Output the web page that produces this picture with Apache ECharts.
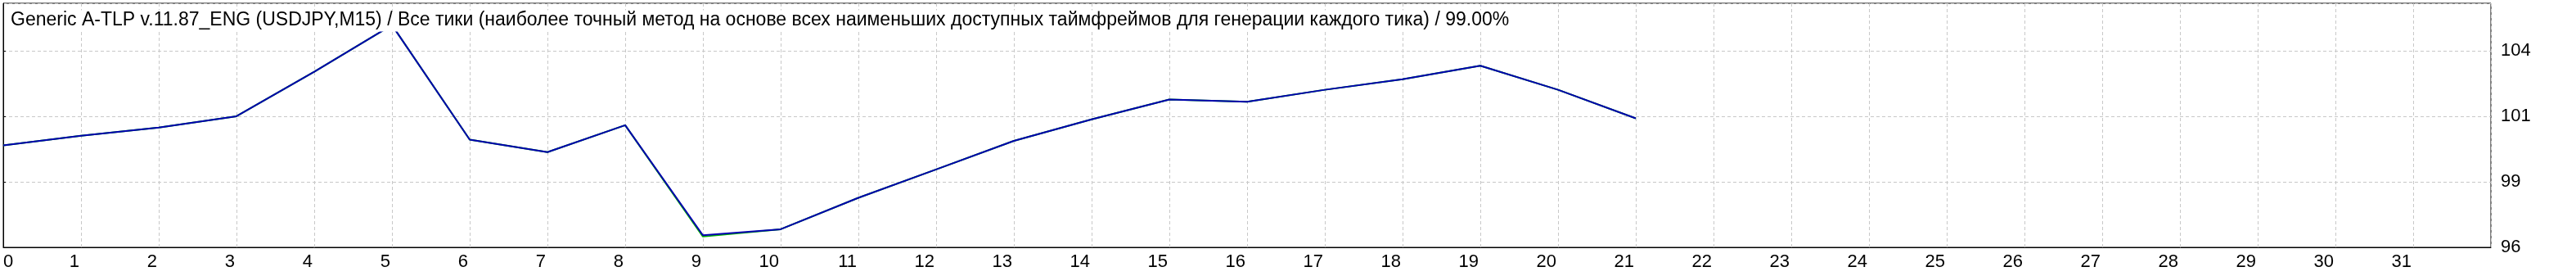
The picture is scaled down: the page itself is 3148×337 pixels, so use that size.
<!DOCTYPE html>
<html>
<head>
<meta charset="utf-8">
<script src="https://cdn.jsdelivr.net/npm/echarts@6/dist/echarts.min.js"></script>
<style>
  html, body { margin: 0; padding: 0; background: #fff; }
  #chart { width: 3148px; height: 337px; }
</style>
</head>
<body>
<div id="chart"></div>
<script>
// заголовок отчёта тестера
var titleText = "Generic A-TLP v.11.87_ENG (USDJPY,M15) / Все тики (наиболее точный метод на основе всех наименьших доступных таймфреймов для генерации каждого тика) / 99.00%";

// номер сделки и баланс после неё
var trades = [0, 1, 2, 3, 4, 5, 6, 7, 8, 9, 10, 11, 12, 13, 14, 15, 16, 17, 18, 19, 20, 21];
var balance = [99.89, 100.26, 100.57, 101.0, 102.7, 104.48, 100.11, 99.63, 100.66, 96.46, 96.69,
  97.89, 98.97, 100.06, 100.88, 101.64, 101.55, 102.01, 102.41, 102.93, 102.01, 100.92];
// средства (почти всё время под линией баланса)
var equity = [99.89, 100.26, 100.57, 101.0, 102.7, 104.48, 100.11, 99.63, 100.66, 96.41, 96.69,
  97.89, 98.97, 100.06, 100.88, 101.64, 101.55, 102.01, 102.41, 102.93, 102.01, 100.92];

var font = "Liberation Sans";

var myChart = echarts.init(document.getElementById("chart"));
myChart.setOption({
  animation: false,
  title: {
    text: titleText,
    left: 9,
    top: 13,
    padding: [1, 4, 2, 4],
    backgroundColor: "#fff",
    textStyle: {
      fontFamily: font,
      fontSize: 23,
      fontWeight: "normal",
      color: "#000",
      lineHeight: 22,
    },
  },
  grid: {
    left: 4,
    top: 4,
    right: 104,
    bottom: 35,
    show: true,
    borderColor: "#000",
    borderWidth: 1,
  },
  xAxis: {
    type: "value",
    min: 0,
    max: 32,
    interval: 1,
    axisLine: { show: true, onZero: false, lineStyle: { color: "#000", width: 1 } },
    axisTick: { show: false },
    axisLabel: {
      fontFamily: font,
      fontSize: 22,
      color: "#000",
      margin: 7,
      lineHeight: 22,
      align: "right",
      padding: [0, 2, 0, 0],
      alignMinLabel: "left",
      showMaxLabel: false,
    },
    splitLine: {
      show: true,
      lineStyle: { color: "#c8c8c8", type: [4, 3], width: 1 },
    },
  },
  yAxis: {
    type: "value",
    position: "right",
    min: 96,
    max: 105.31,
    interval: 2.5,
    axisLine: { show: true, lineStyle: { color: "#000", width: 1 } },
    axisTick: { show: true, inside: false, length: 3, lineStyle: { color: "#000" } },
    axisLabel: {
      fontFamily: font,
      fontSize: 22,
      color: "#000",
      margin: 12,
      showMaxLabel: false,
      formatter: function (value) {
        return String(Math.round(value));
      },
    },
    splitLine: {
      show: true,
      lineStyle: { color: "#c8c8c8", type: [4, 3], width: 1 },
    },
  },
  series: [
    {
      name: "equity",
      type: "line",
      data: trades.map(function (t, i) { return [t, equity[i]]; }),
      symbol: "none",
      lineStyle: { color: "#00b000", width: 2 },
      z: 2,
    },
    {
      name: "balance",
      type: "line",
      data: trades.map(function (t, i) { return [t, balance[i]]; }),
      symbol: "none",
      lineStyle: { color: "#0000b0", width: 2 },
      z: 3,
    },
  ],
});
</script>
</body>
</html>
